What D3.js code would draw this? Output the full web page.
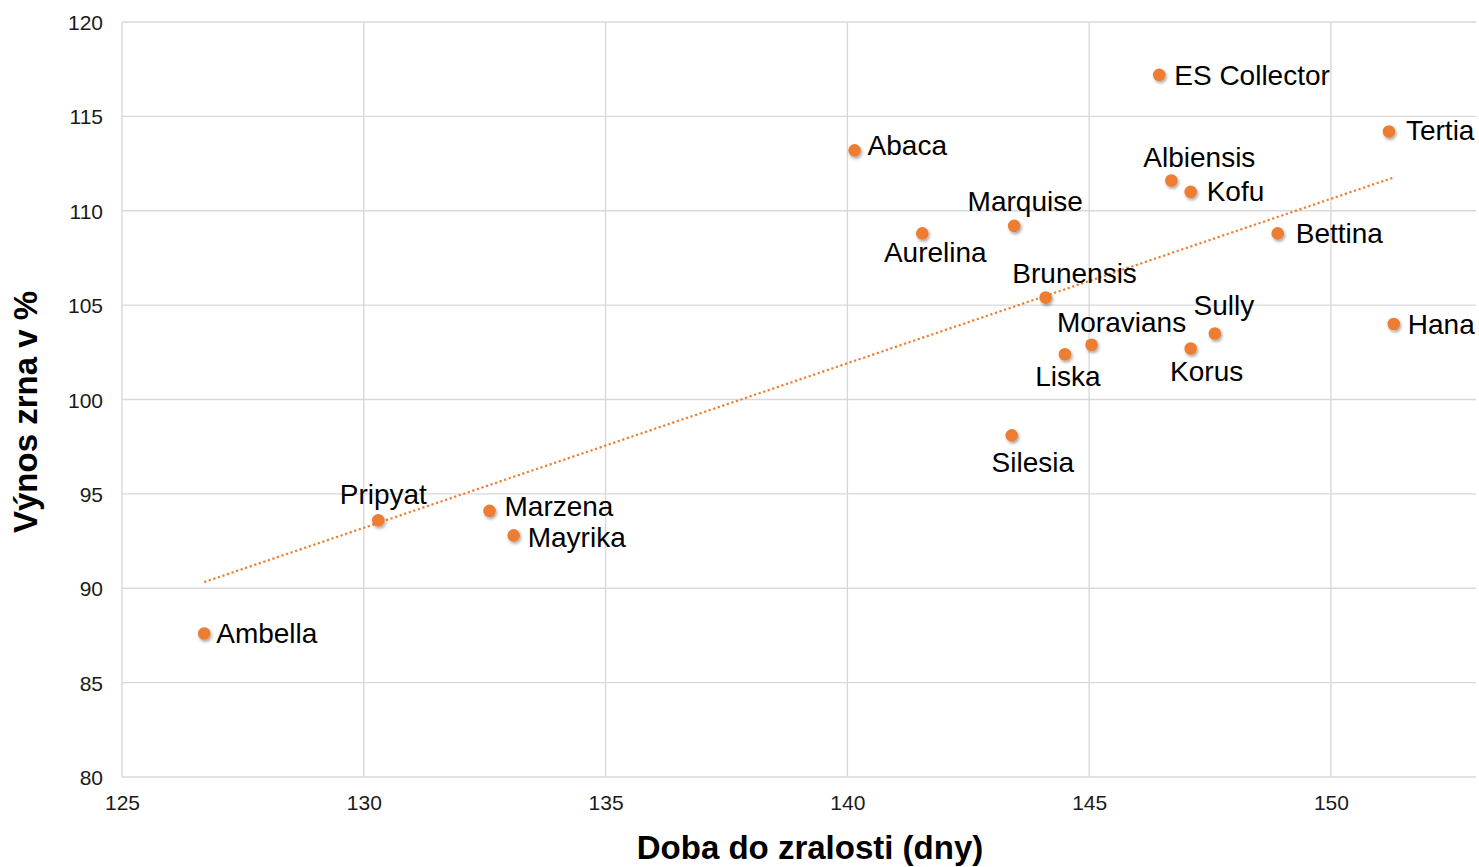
<!DOCTYPE html>
<html>
<head>
<meta charset="utf-8">
<script src="https://cdn.jsdelivr.net/npm/d3@7"></script>
<style>
  html, body { margin: 0; padding: 0; background: #fff; }
  svg { display: block; }
  text { font-family: "Liberation Sans", Arial, Helvetica, sans-serif; }
</style>
</head>
<body>
<div id="chart"></div>
<script>
// ---- data ----
const varieties = ["Ambella","Pripyat","Marzena","Mayrika","Abaca","Aurelina","Marquise","Silesia","Brunensis","Liska","Moravians","ES Collector","Albiensis","Kofu","Korus","Sully","Bettina","Tertia","Hana"];
const maturityDays = [126.7,130.3,132.6,133.1,140.15,141.55,143.45,143.4,144.1,144.5,145.05,146.45,146.7,147.1,147.1,147.6,148.9,151.2,151.3];
const yieldPct = [87.6,93.6,94.1,92.8,113.2,108.8,109.2,98.1,105.4,102.4,102.9,117.2,111.6,111.0,102.7,103.5,108.8,114.2,104.0];
const xTicks = [125,130,135,140,145,150];
const yTicks = [80,85,90,95,100,105,110,115,120];
const xTitle = "Doba do zralosti (dny)";
const yTitle = "Výnos zrna v %";

// ---- label layout (placement, nudge dx, nudge dy in px) ----
const labelLayout = {
  "Ambella":["right",-2,0], "Pripyat":["above",5,-2], "Marzena":["right",1,-5],
  "Mayrika":["right",0,2], "Abaca":["right",-1,-5], "Aurelina":["below",13,-3],
  "Marquise":["above",11,-1], "Silesia":["below",21,5], "Brunensis":["above",29,-1],
  "Liska":["below",3,0], "Moravians":["above",30,1], "ES Collector":["right",1,0],
  "Albiensis":["above",28,0], "Kofu":["right",2,-1], "Korus":["below",16,0],
  "Sully":["above",9,-4], "Bettina":["right",4,0], "Tertia":["right",3,-1], "Hana":["right",0,0]
};

const W = 1479, H = 867;
const margin = {left: 122, top: 22, right: 3, bottom: 90};
const iw = W - margin.left - margin.right, ih = H - margin.top - margin.bottom;

const x = d3.scaleLinear().domain([125, 153]).range([0, iw]);
const y = d3.scaleLinear().domain([80, 120]).range([ih, 0]);

const svg = d3.select("#chart").append("svg").attr("width", W).attr("height", H);
const defs = svg.append("defs");
const f = defs.append("filter").attr("id","shadow").attr("x","-50%").attr("y","-50%").attr("width","200%").attr("height","200%");
f.append("feDropShadow").attr("dx",1.2).attr("dy",2).attr("stdDeviation",1.4).attr("flood-color","#000").attr("flood-opacity",0.35);

const g = svg.append("g").attr("transform", `translate(${margin.left},${margin.top})`);

// gridlines
g.append("g").selectAll("line.h").data(yTicks).join("line")
  .attr("x1", 0).attr("x2", iw).attr("y1", d => y(d)).attr("y2", d => y(d))
  .attr("stroke", "#d9d9d9").attr("stroke-width", 1.4);
g.append("g").selectAll("line.v").data(xTicks).join("line")
  .attr("y1", 0).attr("y2", ih).attr("x1", d => x(d)).attr("x2", d => x(d))
  .attr("stroke", "#d9d9d9").attr("stroke-width", 1.4);

// axes (labels only)
const xAxis = g.append("g").attr("transform", `translate(0,${ih})`)
  .call(d3.axisBottom(x).tickValues(xTicks).tickSize(0).tickPadding(18));
const yAxis = g.append("g")
  .call(d3.axisLeft(y).tickValues(yTicks).tickSize(0).tickPadding(19));
[xAxis, yAxis].forEach(a => {
  a.select(".domain").remove();
  a.selectAll("text").attr("font-size", 21).attr("fill", "#1a1a1a")
    .style("font-family", '"Liberation Sans", Arial, sans-serif');
});
yAxis.selectAll("text").attr("dy", "0.36em");

// trendline (least squares)
const n = maturityDays.length;
const mx = d3.mean(maturityDays), my = d3.mean(yieldPct);
let sxy = 0, sxx = 0;
for (let i = 0; i < n; i++) { sxy += (maturityDays[i]-mx)*(yieldPct[i]-my); sxx += (maturityDays[i]-mx)**2; }
const slope = sxy / sxx, icpt = my - slope * mx;
const [x0, x1] = d3.extent(maturityDays);
g.append("line")
  .attr("x1", x(x0)).attr("y1", y(icpt + slope*x0))
  .attr("x2", x(x1)).attr("y2", y(icpt + slope*x1))
  .attr("stroke", "#ED7D31").attr("stroke-width", 2.2)
  .attr("stroke-dasharray", "2.2 2.6");

const pts = varieties.map((name, i) => ({name, dx: maturityDays[i], y: yieldPct[i]}));

// points
g.append("g").selectAll("circle").data(pts).join("circle")
  .attr("cx", d => x(d.dx)).attr("cy", d => y(d.y)).attr("r", 6.3)
  .attr("fill", "#ED7D31").attr("filter", "url(#shadow)");

// labels
g.append("g").selectAll("text").data(pts).join("text")
  .attr("font-size", 28).attr("fill", "#000")
  .each(function(d) {
    const [pl, ndx, ndy] = labelLayout[d.name] || ["right",0,0];
    const px = x(d.dx), py = y(d.y);
    const t = d3.select(this).text(d.name);
    if (pl === "right") t.attr("x", px + 14 + ndx).attr("y", py + 9.8 + ndy).attr("text-anchor", "start");
    else if (pl === "above") t.attr("x", px + ndx).attr("y", py - 14 + ndy).attr("text-anchor", "middle");
    else t.attr("x", px + ndx).attr("y", py + 32 + ndy).attr("text-anchor", "middle");
  });

// axis titles
svg.append("text").attr("x", 810).attr("y", 859).attr("text-anchor", "middle")
  .attr("font-size", 33).attr("font-weight", "bold").attr("fill", "#000").text(xTitle);
svg.append("text").attr("transform", "translate(37,412) rotate(-90)").attr("text-anchor", "middle")
  .attr("font-size", 33).attr("font-weight", "bold").attr("fill", "#000").text(yTitle);
</script>
</body>
</html>
